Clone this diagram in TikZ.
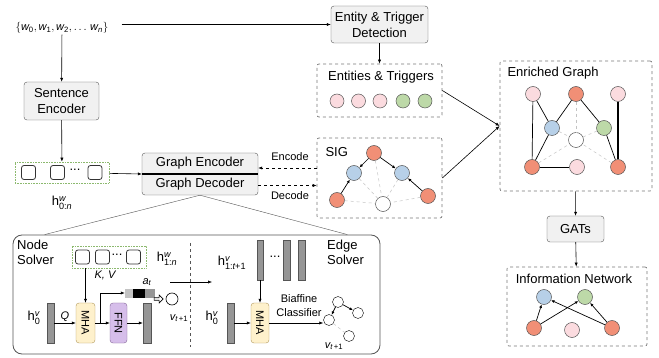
\documentclass[tikz,border=0pt]{standalone}
\usepackage{fontspec}
\setmainfont{Liberation Sans}
\usepackage{amsmath}
\usetikzlibrary{arrows.meta,positioning,calc,shapes.arrows}

\definecolor{BoxFill}{RGB}{241,241,241}
\definecolor{BoxLine}{RGB}{85,85,85}
\definecolor{PanelLine}{RGB}{120,120,120}
\definecolor{DotGreen}{RGB}{140,185,110}
\definecolor{BarGray}{RGB}{150,150,150}
\definecolor{NodeOrange}{RGB}{241,143,118}
\definecolor{NodePink}{RGB}{251,219,223}
\definecolor{NodeBlue}{RGB}{183,208,232}
\definecolor{NodeGreen}{RGB}{189,217,168}
\definecolor{SoftGray}{RGB}{195,195,195}
\definecolor{MhaYellow}{RGB}{254,241,204}
\definecolor{MhaLine}{RGB}{176,150,90}
\definecolor{FfnPurple}{RGB}{214,190,234}
\definecolor{FfnLine}{RGB}{130,100,150}

% sans italic letters inside math
\newcommand{\iv}[1]{\text{\itshape #1}}
\newcommand{\uv}[1]{\text{\upshape #1}}

\tikzset{
  lbl/.style={font=\fontsize{13}{16}\selectfont},
  sml/.style={font=\fontsize{11}{14}\selectfont},
  blk/.style={draw=BoxLine, fill=BoxFill, rounded corners=3pt, align=center, lbl},
  panel/.style={draw=PanelLine, dashed, rounded corners=2pt, line width=0.7pt},
  flow/.style={-{Latex[length=4pt,width=3.2pt]}, line width=0.6pt},
  gflow/.style={-{Latex[length=3.5pt,width=3pt]}, line width=0.7pt},
  gnode/.style={circle, draw=BoxLine, line width=0.5pt, minimum size=15pt, inner sep=0pt},
  orng/.style={gnode, fill=NodeOrange},
  pnk/.style={gnode, fill=NodePink},
  blu/.style={gnode, fill=NodeBlue},
  grn/.style={gnode, fill=NodeGreen},
  wht/.style={gnode, fill=white},
  link/.style={line width=0.7pt},
  ghost/.style={draw=SoftGray, dashed, line width=0.5pt},
  bar/.style={draw=BoxLine, fill=BarGray, minimum width=7pt, minimum height=40pt, inner sep=0pt},
  tok/.style={draw=black!80, fill=white, rounded corners=2.5pt, minimum size=14pt, inner sep=0pt, line width=0.8pt},
  tokbox/.style={draw=DotGreen, densely dotted, line width=0.6pt, inner sep=0pt},
  mha/.style={draw=MhaLine, fill=MhaYellow, rounded corners=3pt, minimum width=19pt, minimum height=40pt, inner sep=0pt, sml},
  ffn/.style={draw=FfnLine, fill=FfnPurple, rounded corners=3pt, minimum width=17pt, minimum height=40pt, inner sep=0pt, sml},
  hlbl/.style={lbl, inner sep=0.5pt},
}

\begin{document}
\begin{tikzpicture}[x=1pt, y=-1pt]
\useasboundingbox (0,0) rectangle (659,358);

% input and sentence encoder
\node[sml, inner sep=1pt] (words) at (62,28) {$\{\iv{w}_{\uv{0}}, \iv{w}_{\uv{1}}, \iv{w}_{\uv{2}}, \ldots\, \iv{w}_{\iv{n}}\}$};
\node[blk, minimum width=75pt, minimum height=38pt] (senc) at (61.5,101) {Sentence\\Encoder};
\node[tokbox, minimum width=94pt, minimum height=21pt] (hw) at (62,172.5) {};
\node[tok] (t0) at (28.5,172.5) {};
\node[tok] (t1) at (57.5,172.5) {};
\node[tok] (t2) at (95,172.5) {};
\node[lbl, inner sep=0pt] (tdots) at (75,170) {...};
\node[hlbl] (hwlbl) at (62,203) {h$^{\iv{w}}_{\uv{0:}\iv{n}}$};

% graph encoder / decoder
\node[blk, minimum width=116pt, minimum height=42pt] (ged) at (200,174) {};
\node[lbl] (genc) at (200,163.5) {Graph Encoder};
\node[lbl] (gdec) at (200,184.5) {Graph Decoder};
\draw[line width=1.6pt] (ged.west) -- (ged.east);

\draw[flow] (words) -- (senc);
\draw[flow] (senc) -- (hw);
\draw[flow] (hw) -- (ged.west);

% detection and entities
\node[blk, minimum width=97pt, minimum height=37pt] (etd) at (379.5,24.5) {Entity \& Trigger\\Detection};
\draw[flow, shorten <=12pt] (words.east |- etd.west) -- (etd.west);
\node[panel, minimum width=125pt, minimum height=53pt] (ent) at (379.5,90.5) {};
\node[lbl] (entlbl) at (381,77) {Entities \& Triggers};
\node[pnk, minimum size=14pt] (e1) at (337,101) {};
\node[pnk, minimum size=14pt] (e2) at (358.5,101) {};
\node[pnk, minimum size=14pt] (e3) at (380,101) {};
\node[grn, minimum size=14pt] (e4) at (403,101) {};
\node[grn, minimum size=14pt] (e5) at (425,101) {};
\draw[flow] (etd) -- (ent);

% SIG
\node[panel, minimum width=125pt, minimum height=80pt] (sig) at (379.5,178) {};
\node[lbl, anchor=west] (siglbl) at (322,152) {SIG};
\node[orng] (s1) at (374,153) {};
\node[blu] (s2) at (354,173) {};
\node[blu] (s3) at (402,173) {};
\node[orng] (s4) at (337,200) {};
\node[wht] (s5) at (383,204) {};
\node[orng] (s6) at (428,196) {};
\foreach \a in {s1,s2,s3,s4,s6} \draw[ghost] (\a) -- (s5);
\draw[gflow] (s1) -- (s2);
\draw[gflow] (s1) -- (s3);
\draw[gflow] (s4) -- (s2);
\draw[gflow] (s6) -- (s3);

\draw[flow, dashed] ($(sig.west)+(0,-10)$) -- ($(ged.east)+(0,-6)$);
\draw[flow, dashed] ($(ged.east)+(0,11.5)$) -- ($(sig.west)+(0,7.5)$);
\node[sml] (enclbl) at (290,157) {Encode};
\node[sml] (declbl) at (290,195.5) {Decode};

% enriched graph
\node[panel, minimum width=152pt, minimum height=130pt] (rich) at (576,126) {};
\node[lbl, anchor=west] (richlbl) at (504,73) {Enriched Graph};
\node[pnk] (r1) at (533,94) {};
\node[orng] (r2) at (576,94) {};
\node[pnk] (r3) at (618,94) {};
\node[blu] (r4) at (552,128) {};
\node[grn] (r5) at (604,128) {};
\node[wht] (r6) at (576,140) {};
\node[orng] (r7) at (532,167) {};
\node[pnk] (r8) at (577,167) {};
\node[orng] (r9) at (618,167) {};
\foreach \a in {r2,r4,r5,r7,r9} \draw[ghost] (\a) -- (r6);
\draw[link] (r1) -- (r7);
\draw[link] (r1) -- (r4);
\draw[link] (r4) -- (r2);
\draw[link] (r2) -- (r5);
\draw[link] (r5) -- (r9);
\draw[link] (r4) -- (r7);
\draw[link] (r7) -- (r8);
\draw[line width=1.5pt] (r3) -- (r9);

\draw[flow] (ent.east) -- (rich.west);
\draw[flow] (sig.east) -- (rich.west);

% GATs and information network
\node[blk, minimum width=57pt, minimum height=26pt] (gats) at (575.5,229) {GATs};
\node[panel, minimum width=140pt, minimum height=79pt] (info) at (577,306.5) {};
\node[lbl] (infolbl) at (574,279) {Information Network};
\node[blu] (i1) at (544,297) {};
\node[grn] (i2) at (585,297) {};
\node[orng] (i3) at (534,328) {};
\node[pnk] (i4) at (572,330) {};
\node[orng] (i5) at (612,328) {};
\draw[gflow] (i3) -- (i1);
\draw[gflow] (i3) -- (i2);
\draw[gflow] (i5) -- (i2);
\draw[gflow] (i5) -- (i1);
\draw[flow] (rich) -- (gats);
\draw[flow] (gats) -- (info);

% solver panel
\node[draw=BoxLine, rounded corners=9pt, line width=0.8pt, minimum width=367pt, minimum height=119pt] (solver) at (196.5,294.5) {};
\draw[BoxLine, line width=0.4pt] (ged.south) -- ($(solver.north west)+(32,0)$);
\draw[BoxLine, line width=0.4pt] (ged.south) -- ($(solver.north east)+(-33,0)$);
\draw[dashed, BoxLine, line width=0.5pt] (190,243) -- (190,347);

% node solver
\node[lbl, align=left, anchor=north west, inner sep=0pt, font=\fontsize{13}{15}\selectfont] (nslbl) at (17,240) {Node\\Solver};
\node[tokbox, minimum width=74pt, minimum height=22pt] (hw1) at (109,257) {};
\node[tok] (u0) at (82.5,257) {};
\node[tok] (u1) at (102.5,257) {};
\node[tok] (u2) at (133.5,257) {};
\node[lbl, inner sep=0pt] (udots) at (117,254.5) {...};
\node[hlbl] (hw1lbl) at (167,259) {h$^{\iv{w}}_{\uv{1:}\iv{n}}$};
\node[sml, inner sep=1pt] (kvlbl) at (105,275) {\itshape K, V};

\node[bar] (b0) at (50.5,323) {};
\node[hlbl] (b0lbl) at (34,318) {h$^{\iv{v}}_{\uv{0}}$};
\node[mha] (mha1) at (85.5,323) {\rotatebox{-90}{MHA}};
\node[ffn] (ffn1) at (118.5,323) {\rotatebox{-90}{FFN}};
\node[bar, minimum width=8pt] (b1) at (147,323) {};
\node[fill=SoftGray, draw=SoftGray, minimum width=8pt, minimum height=8pt, inner sep=0pt] (at1) at (129,293) {};
\node[fill=black, draw=black, minimum width=11pt, minimum height=8pt, inner sep=0pt, right=0pt of at1] (at2) {};
\node[fill=BarGray, draw=BarGray, minimum width=9pt, minimum height=8pt, inner sep=0pt, right=0pt of at2] (at3) {};
\node[sml, inner sep=1pt] (atlbl) at (147,282) {$\iv{a}_{\iv{t}}$};
\node[single arrow, draw, fill=white, line width=0.6pt, minimum height=9pt, minimum width=8pt, inner sep=0.6pt, single arrow head extend=2pt] (hollow) at (158,299) {};
\node[circle, draw, line width=0.6pt, minimum size=12pt, inner sep=0pt] (vnew) at (172,299) {};
\node[sml, inner sep=1pt] (vnewlbl) at (179,318) {$\iv{v}_{\iv{t}\,\uv{+1}}$};

\draw[flow] (mha1.north |- hw1.south) -- (mha1.north);
\draw[flow] (b0.east) -- (mha1.west) node[midway, above, sml, inner sep=1.5pt] {\itshape Q};
\draw[flow] (mha1.east) -- (ffn1.west);
\draw[flow] ($(mha1.east)+(5,0)$) |- (at1.west);
\draw[flow] (ffn1.east) -- (b1.west);

% middle arrow
\coordinate (mida) at (170,282);
\coordinate (midb) at (212,282);
\draw[flow] (mida) -- (midb);

% edge solver
\node[lbl, align=left, anchor=north west, inner sep=0pt, font=\fontsize{13}{15}\selectfont] (eslbl) at (327,240) {Edge\\Solver};
\node[hlbl] (hvlbl) at (232,263) {h$^{\iv{v}}_{\uv{1:}\iv{t}\uv{+1}}$};
\node[bar, minimum width=6pt] (c1) at (260,260) {};
\node[lbl, inner sep=0pt] (cdots) at (275,257) {...};
\node[bar] (c2) at (286.5,260) {};
\node[bar] (c3) at (301.5,260) {};
\node[bar] (b2) at (230.5,323) {};
\node[hlbl] (b2lbl) at (212,318) {h$^{\iv{v}}_{\uv{0}}$};
\node[mha, minimum width=18pt] (mha2) at (260,323) {\rotatebox{-90}{MHA}};
\node[sml, align=center] (biaf) at (299,305.5) {Biaffine\\Classifier};
\node[circle, draw, minimum size=11pt, inner sep=0pt] (q1) at (338,302) {};
\node[circle, draw, minimum size=11pt, inner sep=0pt] (q2) at (358,313) {};
\node[circle, draw, minimum size=11pt, inner sep=0pt] (q3) at (329,320) {};
\node[circle, draw, minimum size=11pt, inner sep=0pt] (q4) at (349,336) {};
\node[sml, inner sep=1pt] (qlbl) at (334,346) {$\iv{v}_{\iv{t}\,\uv{+1}}$};
\draw[gflow] (q1) -- (q3);
\draw[gflow] (q1) -- (q2);
\draw[ghost] (q3) -- (q4);

\draw[flow] (c1.south) -- (mha2.north);
\draw[flow] (b2.east) -- (mha2.west);
\draw[flow] (mha2.east) -- (mha2.east -| q3.west);
\end{tikzpicture}
\end{document}
